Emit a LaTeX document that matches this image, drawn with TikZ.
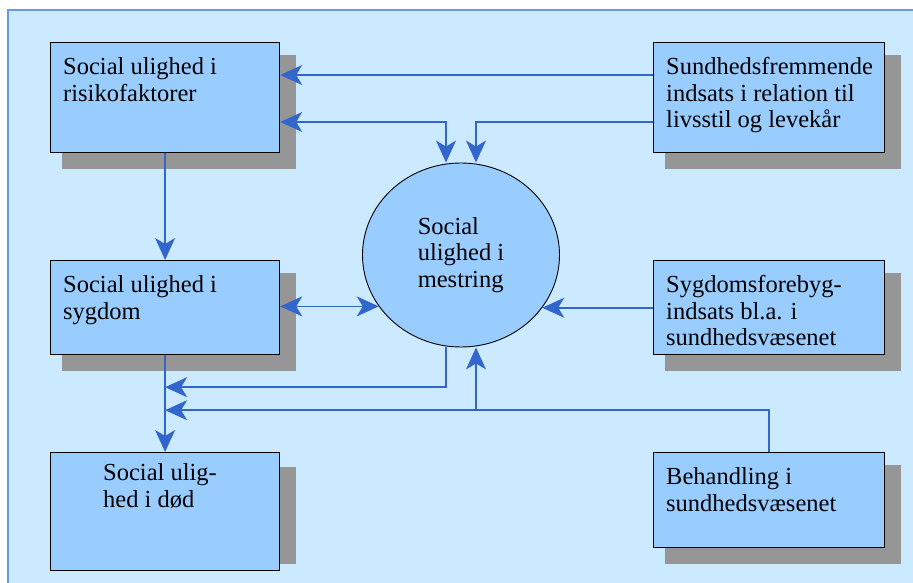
\documentclass[tikz,border=0pt]{standalone}
\usepackage{fontspec}
\setmainfont{Liberation Serif}
\usetikzlibrary{arrows.meta,positioning,shapes.geometric,backgrounds}

\definecolor{bgblue}{RGB}{204,234,255}
\definecolor{frameblue}{RGB}{102,153,230}
\definecolor{boxblue}{RGB}{153,204,255}
\definecolor{lineblue}{RGB}{51,102,204}
\definecolor{shadowgray}{RGB}{150,150,150}
\newcommand\boxfont{\fontsize{24.5}{26.5}\selectfont}

\begin{document}
\begin{tikzpicture}[
  x=1pt, y=-1pt,
  box/.style={draw=black, line width=1.2pt, fill=boxblue, anchor=north west, minimum width=229pt, inner sep=0pt},
  boxtext/.style={anchor=north west, align=left, inner sep=0pt, font=\boxfont, xshift=13pt, yshift=-15.5pt},
  boxshadow/.style={fill=shadowgray},
  conn/.style={draw=lineblue, line width=1.6pt},
  fwd/.style={conn, -{Stealth[length=22pt, width=20pt, inset=6pt]}},
  both/.style={conn, {Stealth[length=22pt, width=20pt, inset=6pt]}-{Stealth[length=22pt, width=20pt, inset=6pt]}},
]
  \useasboundingbox (0,0) rectangle (913,583);

  % left column
  \node[box, minimum height=110pt, label={[boxtext]north west:Social ulighed i\\risikofaktorer}] (risk) at (50,42) {};
  \node[box, minimum height=94pt, label={[boxtext]north west:Social ulighed i\\sygdom}] (sygdom) at (50,260) {};
  \node[box, minimum height=118pt, label={[boxtext, xshift=40pt, yshift=4pt]north west:Social ulig-\\hed i død}] (doed) at (50,452) {};

  % right column
  \node[box, minimum width=231pt, minimum height=110pt, label={[boxtext]north west:Sundhedsfremmende\\indsats i relation til\\livsstil og levekår}] (sundfrem) at (653,42) {};
  \node[box, minimum width=231pt, minimum height=94pt, label={[boxtext]north west:Sygdomsforebyg-\\indsats bl.a. i\\sundhedsvæsenet}] (forebyg) at (653,260) {};
  \node[box, minimum width=231pt, minimum height=95pt, label={[boxtext]north west:Behandling i\\sundhedsvæsenet}] (behandl) at (653,452) {};

  % centre
  \node[ellipse, draw=black, line width=0.9pt, fill=boxblue, minimum width=197pt, minimum height=184pt, inner sep=0pt, align=left, font=\boxfont] (mest) at (461,255) {Social\\ulighed i\\mestring};

  \coordinate (j1) at ([yshift=-32pt]sygdom.south);
  \coordinate (j2) at ([yshift=-55pt]sygdom.south);

  % connectors
  \draw[fwd] ([yshift=-33pt]sundfrem.north west) -- ([yshift=-33pt]risk.north east);
  \draw[both] ([yshift=-80pt]risk.north east) -| ([xshift=-15pt]mest.north);
  \draw[fwd] ([yshift=-80pt]sundfrem.north west) -| ([xshift=15pt]mest.north);
  \draw[fwd] (risk.south) -- (sygdom.north);
  \draw[both] (sygdom.east |- mest.212.6) -- (mest.212.6);
  \draw[fwd] (forebyg.west |- mest.327.4) -- (mest.327.4);
  \draw[fwd] (sygdom.south) -- (doed.north);
  \draw[fwd] ([xshift=-15pt]mest.south) |- (j1);
  \draw[fwd] (behandl.north) |- (j2);
  \draw[fwd] ([xshift=15pt]mest.south |- j2) -- ([xshift=15pt]mest.south);

  % frame and shadows
  \begin{scope}[on background layer]
    \fill[bgblue] (8,10) rectangle (913,583);
    \draw[frameblue, line width=1.2pt] (8,583) -- (8,10) -- (913,10);
    \foreach \b in {risk,sygdom,sundfrem,forebyg,behandl}
      \fill[boxshadow] ([shift={(12pt,-13pt)}]\b.north west) rectangle ([shift={(16pt,-16pt)}]\b.south east);
    \fill[boxshadow] ([shift={(12pt,-15pt)}]doed.north west) rectangle ([shift={(16pt,7pt)}]doed.south east);
  \end{scope}
\end{tikzpicture}
\end{document}
